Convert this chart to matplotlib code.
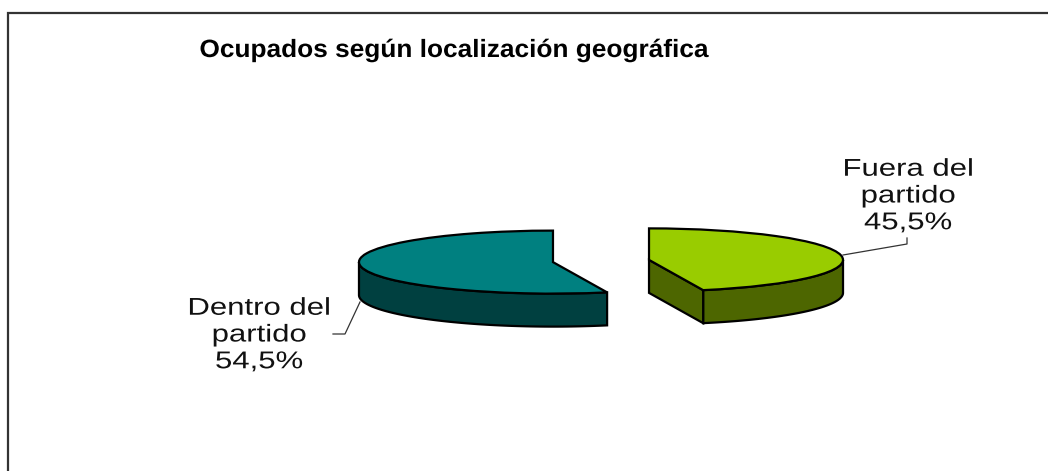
import matplotlib
matplotlib.use('Agg')
import matplotlib.pyplot as plt
import matplotlib.patheffects as pe
import numpy as np
from matplotlib.patches import Polygon
from matplotlib.transforms import Affine2D

plt.rcParams['font.family'] = ['Liberation Sans', 'DejaVu Sans']

# Datos del gráfico
titulo = 'Ocupados según localización geográfica'
categorias = ['Dentro del\npartido', 'Fuera del\npartido']
porcentajes = [54.5, 45.5]

colores_cara = ['#008080', '#99CC00']
colores_lado = ['#004040', '#4D6600']

# Escala de la torta en pixeles
cx, cy = 601, 261
rx, ry = 194, 31.5
profundidad = 33 / ry


# El texto del original esta estirado a lo ancho
class Estirar(pe.AbstractPathEffect):
    def __init__(self, sx, x_centro):
        super().__init__()
        self.sx = sx
        self.x_centro = x_centro

    def draw_path(self, renderer, gc, tpath, affine, rgbFace=None):
        t = affine + Affine2D().translate(-self.x_centro, 0).scale(self.sx, 1).translate(self.x_centro, 0)
        renderer.draw_path(gc, tpath, t, rgbFace)


fig = plt.figure(figsize=(10.48, 4.71), dpi=100)

# Ejes de la torta: el circulo queda aplastado porque el aspecto es libre
ax = fig.add_axes([0, 0, 1, 1])
wedges, _ = ax.pie(porcentajes[::-1], colors=colores_cara[::-1], startangle=90,
                   counterclock=False, explode=[0.25, 0.25],
                   wedgeprops={'edgecolor': 'black', 'linewidth': 1.6, 'zorder': 3})
ax.set_aspect('auto')
ax.set_xlim(-cx / rx, (1048 - cx) / rx)
ax.set_ylim((cy - 471) / ry, cy / ry)

# Lados de cada porcion, por debajo de la cara superior
for w, lado in zip(wedges, colores_lado[::-1]):
    x0, y0 = w.center
    t1, t2 = w.theta1 % 360, w.theta2 % 360
    if t2 <= t1:
        t2 += 360
    # parte del arco que mira hacia el frente
    if t2 > 360:
        t = np.radians(np.linspace(t1, 360, 80))
    else:
        t = np.radians(np.linspace(max(t1, 180), t2, 80))
    xa = x0 + np.cos(t)
    ya = y0 + np.sin(t)
    pts = np.r_[np.c_[xa, ya], np.c_[xa[::-1], ya[::-1] - profundidad]]
    ax.add_patch(Polygon(pts, closed=True, facecolor=lado, edgecolor='black',
                         linewidth=1.6, zorder=2))
    # cara plana visible de la porcion derecha
    if t2 > 360:
        pts = [(x0, y0), (xa[0], ya[0]), (xa[0], ya[0] - profundidad), (x0, y0 - profundidad)]
        ax.add_patch(Polygon(pts, closed=True, facecolor=lado, edgecolor='black',
                             linewidth=1.6, zorder=2))

# Ejes en pixeles para marco, textos y lineas guia
top = fig.add_axes([0, 0, 1, 1])
top.set_xlim(0, 1048)
top.set_ylim(471, 0)
top.axis('off')
top.patch.set_alpha(0)

top.plot([8, 8, 1048], [471, 13, 13], color='#333333', lw=1.6, solid_joinstyle='miter')
top.text(454, 50, titulo, ha='center', va='center', fontsize=18, fontweight='bold', color='black',
         path_effects=[Estirar(1.05, 454)])

etiquetas = [c + '\n' + f'{p:.1f}'.replace('.', ',') + '%' for c, p in zip(categorias, porcentajes)]
top.text(259, 335.5, etiquetas[0], ha='center', va='center', fontsize=17.5,
         linespacing=1.28, color='#111111', path_effects=[Estirar(1.28, 259)])
top.text(908, 196.5, etiquetas[1], ha='center', va='center', fontsize=17.5,
         linespacing=1.28, color='#111111', path_effects=[Estirar(1.28, 908)])

top.plot([360, 345, 333], [302, 334, 334], color='#333333', lw=0.9)
top.plot([843, 907, 907], [255, 244, 238], color='#333333', lw=0.9)

fig.savefig('out.png', dpi=100, facecolor='white')
